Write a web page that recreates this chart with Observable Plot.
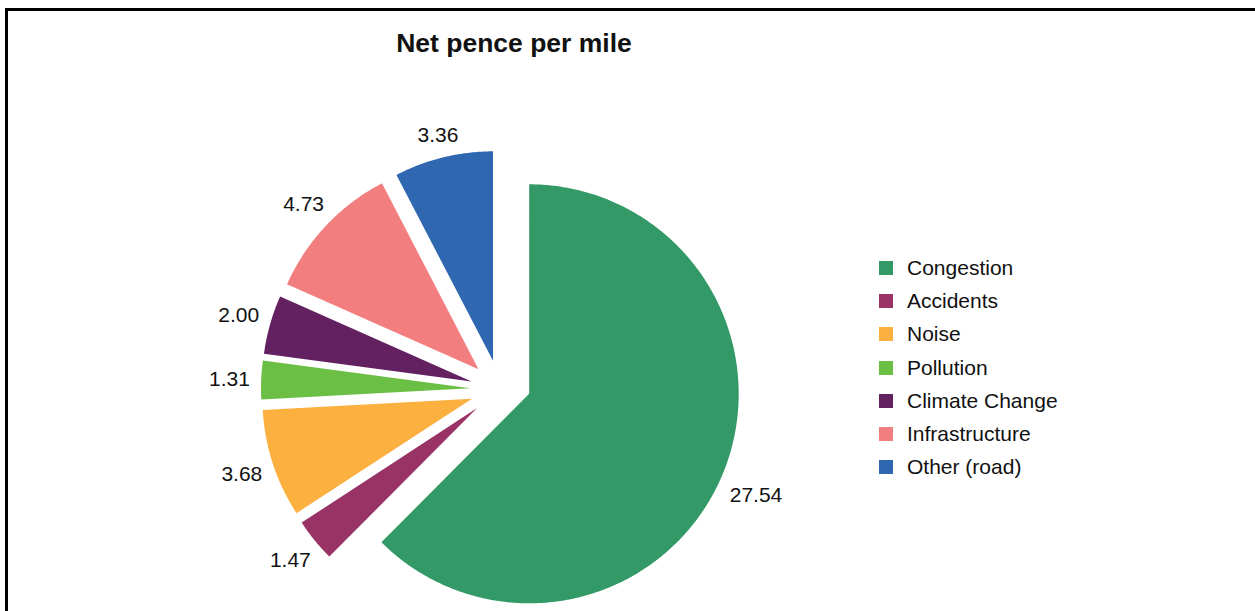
<!DOCTYPE html>
<html><head><meta charset="utf-8">
<script src="https://cdn.jsdelivr.net/npm/d3@7"></script>
<script src="https://cdn.jsdelivr.net/npm/@observablehq/plot@0.6"></script>
<style>
html,body{margin:0;padding:0;background:#fff;overflow:hidden}
body{width:1255px;height:611px;position:relative;font-family:"Liberation Sans",Arial,sans-serif;color:#111}
#frame{position:absolute;left:5px;top:8px;right:-10px;bottom:-10px;border-left:3px solid #000;border-top:3px solid #000;z-index:2}
#title{position:absolute;left:0;width:1028px;top:30px;text-align:center;font-weight:bold;font-size:26.5px;line-height:1;z-index:3}
#chart{position:absolute;left:0;top:0}
#legend{position:absolute;left:879px;top:251px;z-index:3}
.row{height:33.3px;display:flex;align-items:center;font-size:21px}
.sw{width:14px;height:14px;margin-right:14px;flex:none}
</style></head><body>
<div id="frame"></div>
<div id="title">Net pence per mile</div>
<div id="chart"></div>
<div id="legend"></div>
<script>
const categories = ["Congestion","Accidents","Noise","Pollution","Climate Change","Infrastructure","Other (road)"];
const values = [27.54, 1.47, 3.68, 1.31, 2.00, 4.73, 3.36];
const labels = ["27.54","1.47","3.68","1.31","2.00","4.73","3.36"];
const colors = ["#339966","#993366","#fbb040","#6cbf45","#632161","#f37e80","#2f67b1"];

// layout constants (pixels)
const W = 1255, H = 611, CX = 499.5, CY = 389, RPX = 209.5, EXPLODE = 29.5, LABEL_R = 250, FS = 21;
const BIG_SLICE_DIR = 98.4 * Math.PI / 180; // push direction used for a slice wider than a half-circle

const pie = d3.pie().sort(null).value(i => values[i])(d3.range(categories.length));

const ctx = document.createElement("canvas").getContext("2d");
ctx.font = FS + "px 'Liberation Sans'";

const polys = [];
const texts = [];
for (const a of pie) {
  const i = a.data, cat = categories[i];
  const mid = (a.startAngle + a.endAngle) / 2;
  const sx = Math.sin(mid), sy = Math.cos(mid);
  const push = (a.endAngle - a.startAngle) > Math.PI ? BIG_SLICE_DIR : mid;
  const ox = EXPLODE / RPX * Math.sin(push), oy = EXPLODE / RPX * Math.cos(push);
  polys.push({cat, x: ox, y: oy});
  const n = Math.max(2, Math.ceil((a.endAngle - a.startAngle) / (Math.PI / 360)));
  for (let k = 0; k <= n; k++) {
    const t = a.startAngle + (a.endAngle - a.startAngle) * k / n;
    polys.push({cat, x: ox + Math.sin(t), y: oy + Math.cos(t)});
  }
  const w = ctx.measureText(labels[i]).width, h = 14;
  const r = (LABEL_R + 0.5 * (w * Math.abs(sx) + h * Math.abs(sy))) / RPX;
  texts.push({cat, label: labels[i], x: r * sx, y: r * sy});
}

const chart = Plot.plot({
  width: W, height: H,
  marginTop: 0, marginRight: 0, marginBottom: 0, marginLeft: 0,
  x: {domain: [-CX / RPX, (W - CX) / RPX], axis: null},
  y: {domain: [-(H - CY) / RPX, CY / RPX], axis: null},
  color: {type: "ordinal", domain: categories, range: colors},
  style: {fontFamily: "'Liberation Sans', Arial, sans-serif", background: "transparent"},
  marks: [
    Plot.line(polys, {x: "x", y: "y", z: "cat", fill: "cat", stroke: "none", curve: "linear-closed"}),
    Plot.text(texts, {x: "x", y: "y", text: "label", fontSize: FS, fill: "#111", textAnchor: "middle", lineAnchor: "middle"})
  ]
});
document.getElementById("chart").appendChild(chart);

const cscale = chart.scale("color");
const legend = document.getElementById("legend");
for (const c of categories) {
  const row = document.createElement("div");
  row.className = "row";
  const sw = document.createElement("div");
  sw.className = "sw";
  sw.style.background = cscale.apply ? cscale.apply(c) : colors[categories.indexOf(c)];
  const tx = document.createElement("span");
  tx.textContent = c;
  row.appendChild(sw); row.appendChild(tx);
  legend.appendChild(row);
}
</script>
</body></html>
